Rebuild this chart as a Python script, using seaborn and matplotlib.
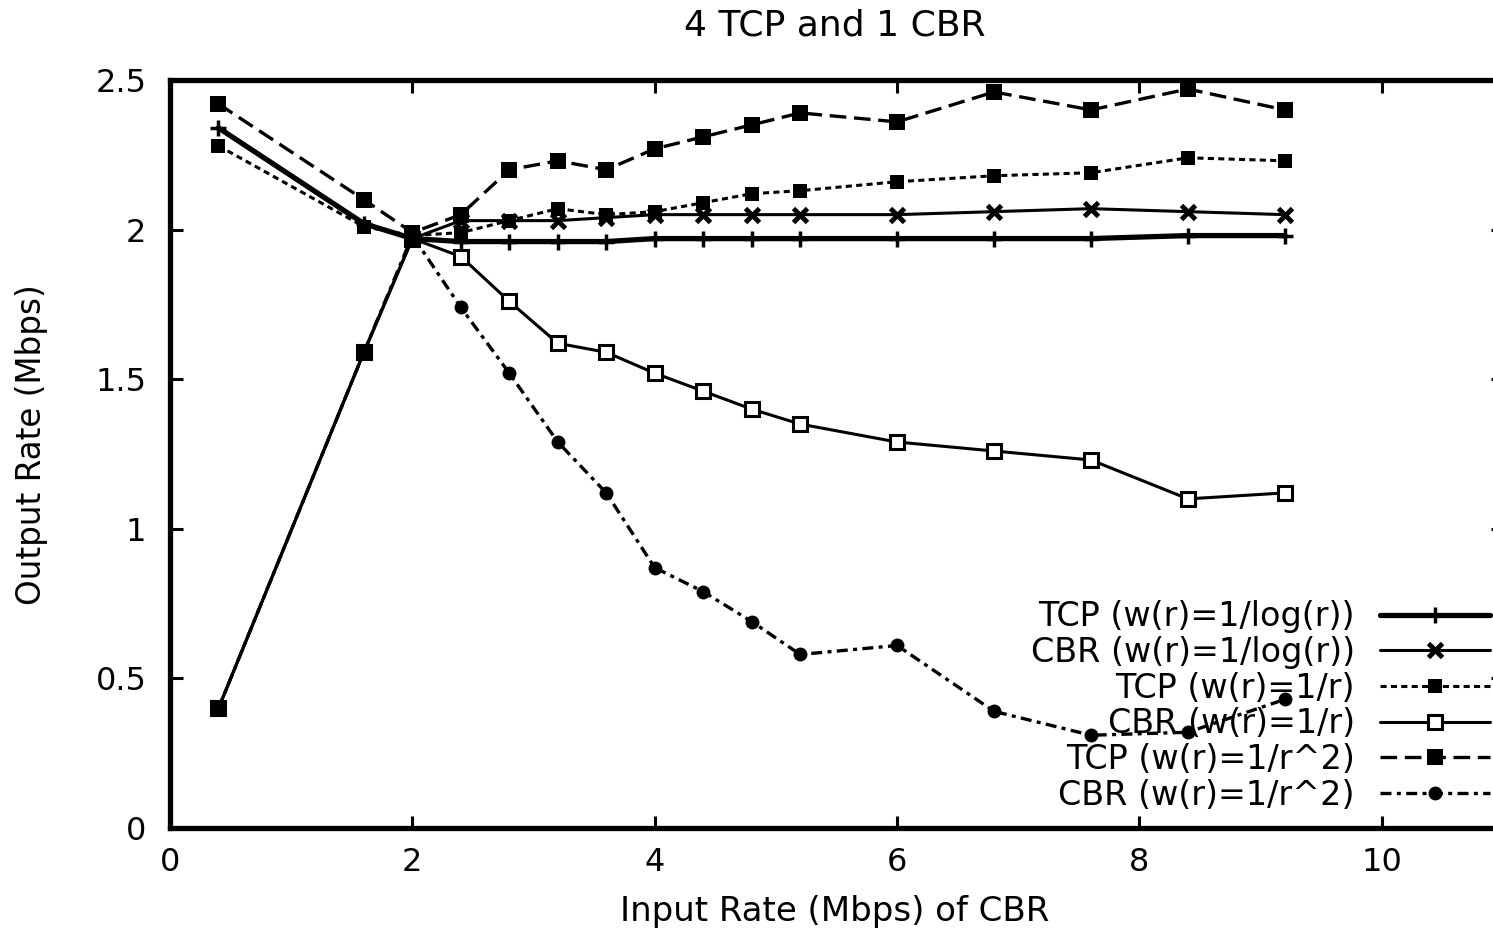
import matplotlib
matplotlib.use("Agg")
import matplotlib.pyplot as plt
import seaborn as sns
import pandas as pd

# ---------------- data ----------------
input_rate = [0.4, 1.6, 2.0, 2.4, 2.8, 3.2, 3.6, 4.0, 4.4, 4.8, 5.2, 6.0, 6.8, 7.6, 8.4, 9.2]
tcp_log = [2.34, 2.02, 1.97, 1.96, 1.96, 1.96, 1.96, 1.97, 1.97, 1.97, 1.97, 1.97, 1.97, 1.97, 1.98, 1.98]
cbr_log = [0.40, 1.59, 1.97, 2.03, 2.03, 2.03, 2.04, 2.05, 2.05, 2.05, 2.05, 2.05, 2.06, 2.07, 2.06, 2.05]
tcp_inv = [2.28, 2.01, 1.98, 1.99, 2.03, 2.07, 2.05, 2.06, 2.09, 2.12, 2.13, 2.16, 2.18, 2.19, 2.24, 2.23]
cbr_inv = [0.40, 1.59, 1.97, 1.91, 1.76, 1.62, 1.59, 1.52, 1.46, 1.40, 1.35, 1.29, 1.26, 1.23, 1.10, 1.12]
tcp_inv2 = [2.42, 2.10, 1.99, 2.05, 2.20, 2.23, 2.20, 2.27, 2.31, 2.35, 2.39, 2.36, 2.46, 2.40, 2.47, 2.40]
cbr_inv2 = [0.40, 1.59, 1.98, 1.74, 1.52, 1.29, 1.12, 0.87, 0.79, 0.69, 0.58, 0.61, 0.39, 0.31, 0.32, 0.43]

labels = ["TCP (w(r)=1/log(r))", "CBR (w(r)=1/log(r))", "TCP (w(r)=1/r)",
          "CBR (w(r)=1/r)", "TCP (w(r)=1/r^2)", "CBR (w(r)=1/r^2)"]
values = [tcp_log, cbr_log, tcp_inv, cbr_inv, tcp_inv2, cbr_inv2]

x_ticks = [0, 2, 4, 6, 8, 10]
x_ticklabels = ["0", "2", "4", "6", "8", "10"]
y_ticks = [0, 0.5, 1.0, 1.5, 2.0, 2.5]
y_ticklabels = ["0", "0.5", "1", "1.5", "2", "2.5"]

title = "4 TCP and 1 CBR"
xlabel = "Input Rate (Mbps) of CBR"
ylabel = "Output Rate (Mbps)"

# ---------------- styling ----------------
sns.set_theme(style="ticks")
plt.rcParams['font.family'] = ['DejaVu Sans']
plt.rcParams['text.color'] = 'black'
plt.rcParams['xtick.color'] = 'black'
plt.rcParams['ytick.color'] = 'black'

styles = [
    dict(linewidth=3.8, marker='+', markersize=12, markeredgewidth=2.5, linestyle='-', zorder=3),
    dict(linewidth=2.2, marker='x', markersize=10, markeredgewidth=3.5, linestyle='-', zorder=3),
    dict(linewidth=2.2, marker='s', markersize=10, markeredgewidth=0, linestyle=(0, (2.0, 1.4)), zorder=3),
    dict(linewidth=2.2, marker='s', markersize=10, markeredgewidth=2.2, markerfacecolor='white',
         linestyle='-', zorder=2.5),
    dict(linewidth=2.4, marker='s', markersize=12, markeredgewidth=0, linestyle=(0, (5, 2.3)), zorder=3),
    dict(linewidth=2.4, marker='o', markersize=10, markeredgewidth=0,
         linestyle=(0, (3.3, 1.6, 1.2, 1.6)), zorder=3),
]

W, H = 1493, 931
fig = plt.figure(figsize=(W / 100, H / 100), dpi=100)
ax = fig.add_axes([170 / W, (H - 828) / H, (1503 - 170) / W, (828 - 80) / H])

for lab, vals, st in zip(labels, values, styles):
    df = pd.DataFrame({"x": input_rate, "y": vals})
    sns.lineplot(data=df, x="x", y="y", ax=ax, color="black", label=lab,
                 markeredgecolor="black", **st)

ax.set_xlim(0, 11)
ax.set_ylim(0, 2.5)
ax.set_xticks(x_ticks)
ax.set_xticklabels(x_ticklabels)
ax.set_yticks(y_ticks)
ax.set_yticklabels(y_ticklabels)
ax.set_xlabel("")
ax.set_ylabel("")
ax.tick_params(axis='both', direction='in', length=9, width=2.2, colors='black',
               labelcolor='black', labelsize=23, top=True, right=True)
ax.tick_params(axis='y', pad=17)
ax.tick_params(axis='x', pad=14)
for sp in ax.spines.values():
    sp.set_visible(True)
    sp.set_linewidth(3.8)
    sp.set_color('black')
ax.grid(False)

leg = ax.legend(loc='lower right', bbox_to_anchor=(0.990, 0.022), markerfirst=False,
                frameon=False, handlelength=3.3, handletextpad=0.75, labelspacing=0.08,
                fontsize=24, borderaxespad=0, borderpad=0, labelcolor='black')

fig.text(835 / W, 1 - 26 / H, title, ha='center', va='center', fontsize=26, color='black')
fig.text(835 / W, 1 - 912 / H, xlabel, ha='center', va='center', fontsize=24.5, color='black')
fig.text(32 / W, 1 - 445 / H, ylabel, ha='center', va='center', rotation=90, fontsize=23.5,
         color='black')

fig.savefig("out.png", dpi=100)
